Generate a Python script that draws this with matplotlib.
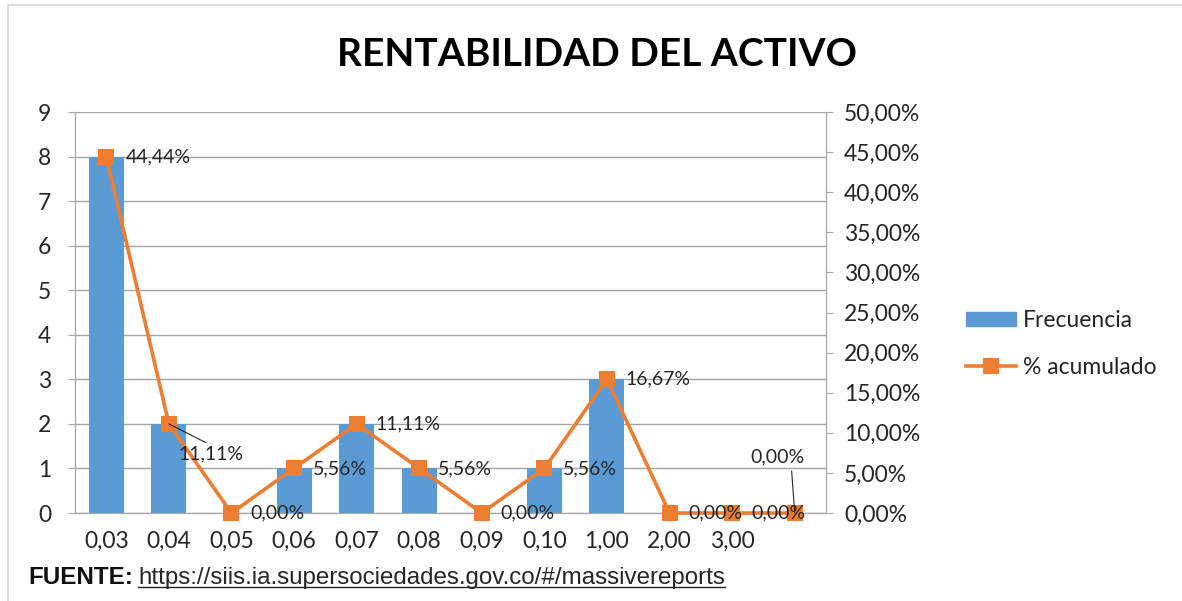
import matplotlib
matplotlib.use("Agg")
import matplotlib.pyplot as plt
from matplotlib import font_manager
from matplotlib.lines import Line2D
from matplotlib.patches import Rectangle
from matplotlib.ticker import FuncFormatter, MultipleLocator

# Data
categories = ["0,03", "0,04", "0,05", "0,06", "0,07", "0,08", "0,09", "0,10", "1,00", "2,00", "3,00", ""]
frecuencia = [8, 2, 0, 1, 2, 1, 0, 1, 3, 0, 0, 0]
porcentaje = [44.44, 11.11, 0.00, 5.56, 11.11, 5.56, 0.00, 5.56, 16.67, 0.00, 0.00, 0.00]

BLUE = "#5B9BD5"
ORANGE = "#ED7D31"
GRID = "#A6A6A6"
TXT = "#262626"

names = {f.name for f in font_manager.fontManager.ttflist}
NUM_FONT = "Lato"
SRC_FONT = "Liberation Sans Narrow" if "Liberation Sans Narrow" in names else "Liberation Sans"

plt.rcParams["font.family"] = NUM_FONT

fig = plt.figure(figsize=(11.82, 6.01), dpi=100)
ax = fig.add_axes([75 / 1182, 1 - 513 / 601, (826 - 75) / 1182, (513 - 112) / 601])
ax2 = ax.twinx()

x = list(range(len(categories)))
ax.bar(x, frecuencia, width=0.56, color=BLUE, zorder=2)
ax.set_xlim(-0.5, len(categories) - 0.5)
ax.set_ylim(0, 9)
ax.yaxis.set_major_locator(MultipleLocator(1))
ax.grid(axis="y", color=GRID, linewidth=1.0, zorder=0)
ax.set_axisbelow(True)
ax.set_xticks(x)
ax.set_xticklabels(categories)
ax.tick_params(axis="x", length=0, labelsize=16.5, labelcolor=TXT, pad=13)
ax.tick_params(axis="y", length=5, color=GRID, labelsize=16.5, labelcolor=TXT, pad=12)

frac = [p / 100 for p in porcentaje]
ax2.plot(x, frac, color=ORANGE, linewidth=2.6, marker="s", markersize=11,
         markeredgewidth=0, zorder=3, clip_on=False)
ax2.set_ylim(0, 0.5)
ax2.yaxis.set_major_locator(MultipleLocator(0.05))
ax2.yaxis.set_major_formatter(FuncFormatter(lambda v, _: f"{v * 100:.2f}%".replace(".", ",")))
ax2.tick_params(axis="y", length=5, color=GRID, labelsize=16.5, labelcolor=TXT, pad=8)

for a in (ax, ax2):
    for side in ("left", "right", "bottom"):
        a.spines[side].set_color(GRID)
    a.spines["top"].set_visible(False)

# Data labels
LBL_SIZE = 14
for i, p in enumerate(porcentaje):
    lbl = f"{p:.2f}%".replace(".", ",")
    if i == 1:
        ax2.annotate(lbl, xy=(i, frac[i]), xytext=(10, -30), textcoords="offset pixels",
                     fontsize=LBL_SIZE, color=TXT, va="center", ha="left",
                     arrowprops=dict(arrowstyle="-", color="#262626", lw=0.8,
                                     shrinkA=0, shrinkB=0, relpos=(0.5, 1.0)))
    elif i == len(porcentaje) - 1:
        ax2.annotate(lbl, xy=(i, frac[i]), xytext=(-17, 56), textcoords="offset pixels",
                     fontsize=LBL_SIZE, color=TXT, va="center", ha="center",
                     arrowprops=dict(arrowstyle="-", color="#262626", lw=0.8,
                                     shrinkA=2, shrinkB=0, relpos=(0.75, 0.0)))
    else:
        ax2.annotate(lbl, xy=(i, frac[i]), xytext=(19, 0), textcoords="offset pixels",
                     fontsize=LBL_SIZE, color=TXT, va="center", ha="left")

# Title
fig.text(597 / 1182, 1 - 55 / 601, "RENTABILIDAD DEL ACTIVO", ha="center", va="center",
         fontsize=28, fontweight="bold", color="#000000")

# Legend
handles = [Rectangle((0, 0), 1, 1, color=BLUE),
           Line2D([], [], color=ORANGE, linewidth=2.6, marker="s", markersize=11, markeredgewidth=0)]
fig.legend(handles, ["Frecuencia", "% acumulado"], loc="center left",
           bbox_to_anchor=(966 / 1182, 1 - 344 / 601), frameon=False, fontsize=16.5,
           handlelength=2.2, handleheight=0.55, handletextpad=0.3, labelspacing=1.1,
           borderpad=0, borderaxespad=0, labelcolor=TXT)

# Source line
SRC_SIZE = 17.4 if SRC_FONT == "Liberation Sans" else 19
t1 = fig.text(28 / 1182, 1 - 578 / 601, "FUENTE:", fontfamily=SRC_FONT, fontweight="bold",
              fontsize=SRC_SIZE, ha="left", va="center", color="#111111")
fig.canvas.draw()
r = fig.canvas.get_renderer()
bb1 = t1.get_window_extent(r)
t2 = fig.text((bb1.x1 + 5) / 1182, 1 - 578 / 601, "https://siis.ia.supersociedades.gov.co/#/massivereports",
              fontfamily=SRC_FONT, fontsize=SRC_SIZE, ha="left", va="center", color="#262626")
fig.canvas.draw()
bb2 = t2.get_window_extent(r)
uy = (bb2.y0 + 2) / 601
fig.add_artist(Line2D([bb2.x0 / 1182, bb2.x1 / 1182], [uy, uy], color="#262626", linewidth=1.0))

# Outer frame (top and left edges)
fig.add_artist(Line2D([8 / 1182, 1], [1 - 5 / 601, 1 - 5 / 601], color="#D9D9D9", linewidth=1.2))
fig.add_artist(Line2D([8 / 1182, 8 / 1182], [0, 1 - 5 / 601], color="#D9D9D9", linewidth=1.2))

fig.savefig("out.png", dpi=100, facecolor="white")
